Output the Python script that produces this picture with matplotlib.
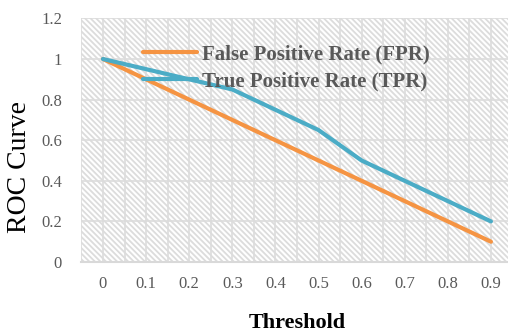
import numpy as np
import matplotlib
matplotlib.use("Agg")
import matplotlib.pyplot as plt
from matplotlib.patches import Rectangle

# chart values
thresholds = ['0', '0.1', '0.2', '0.3', '0.4', '0.5', '0.6', '0.7', '0.8', '0.9']
fpr = [1.0, 0.9, 0.8, 0.7, 0.6, 0.5, 0.4, 0.3, 0.2, 0.1]
tpr = [1.0, 0.95, 0.9, 0.85, 0.75, 0.65, 0.5, 0.4, 0.3, 0.2]
y_ticks = [0, 0.2, 0.4, 0.6, 0.8, 1.0, 1.2]
y_tick_labels = ['0', '0.2', '0.4', '0.6', '0.8', '1', '1.2']

plt.rcParams['font.family'] = ['Liberation Serif', 'DejaVu Serif']
plt.rcParams['hatch.linewidth'] = 1.3

fig = plt.figure(figsize=(5.08, 3.33), dpi=100)
ax = fig.add_axes([81.4 / 508, 71 / 333, 431.1 / 508, 243.6 / 333])

x = np.arange(len(thresholds))

# hatched plot background
bg = Rectangle((0, 0), 1, 1, transform=ax.transAxes, facecolor='white',
               edgecolor='#DCDCDC', hatch='\\' * 6, lw=0, zorder=0)
ax.add_patch(bg)

ax.plot(x, fpr, color='#F59443', lw=3, solid_capstyle='round',
        label='False Positive Rate (FPR)', zorder=3)
ax.plot(x, tpr, color='#4BACC6', lw=3, solid_capstyle='round',
        label='True Positive Rate (TPR)', zorder=3)

ax.set_xlim(-0.5, 9.5)
ax.set_ylim(0, 1.2)
ax.set_xticks(x)
ax.set_xticklabels(thresholds)
ax.set_xticks(np.arange(-0.5, 10, 1.0), minor=True)
ax.set_yticks(y_ticks)
ax.set_yticklabels(y_tick_labels)

ax.set_axisbelow(True)
ax.grid(axis='x', which='both', color='#DCDCDC', lw=1.2)
ax.grid(axis='y', which='major', color='#DCDCDC', lw=1.2)

for side in ['top', 'right', 'left']:
    ax.spines[side].set_visible(False)
ax.spines['bottom'].set_color('#D9D9D9')
ax.spines['bottom'].set_linewidth(1.5)

ax.tick_params(which='both', length=0)
ax.tick_params(axis='x', pad=10, labelsize=12, labelcolor='#595959')
ax.tick_params(axis='y', pad=14, labelsize=12, labelcolor='#595959')

ax.set_xlabel('Threshold', fontsize=16, fontweight='bold', labelpad=15)
ax.set_ylabel('ROC Curve', fontsize=20)
ax.yaxis.set_label_coords(-0.115, 0.39)

leg = ax.legend(loc='upper left', bbox_to_anchor=(143 / 508, 1 - 44 / 333),
                bbox_transform=fig.transFigure, frameon=False, borderpad=0,
                borderaxespad=0, handlelength=2.6, handletextpad=0.25,
                labelspacing=0.36, prop={'size': 15, 'weight': 'bold'})
for t in leg.get_texts():
    t.set_color('#595959')

fig.savefig('out.png', dpi=100)
